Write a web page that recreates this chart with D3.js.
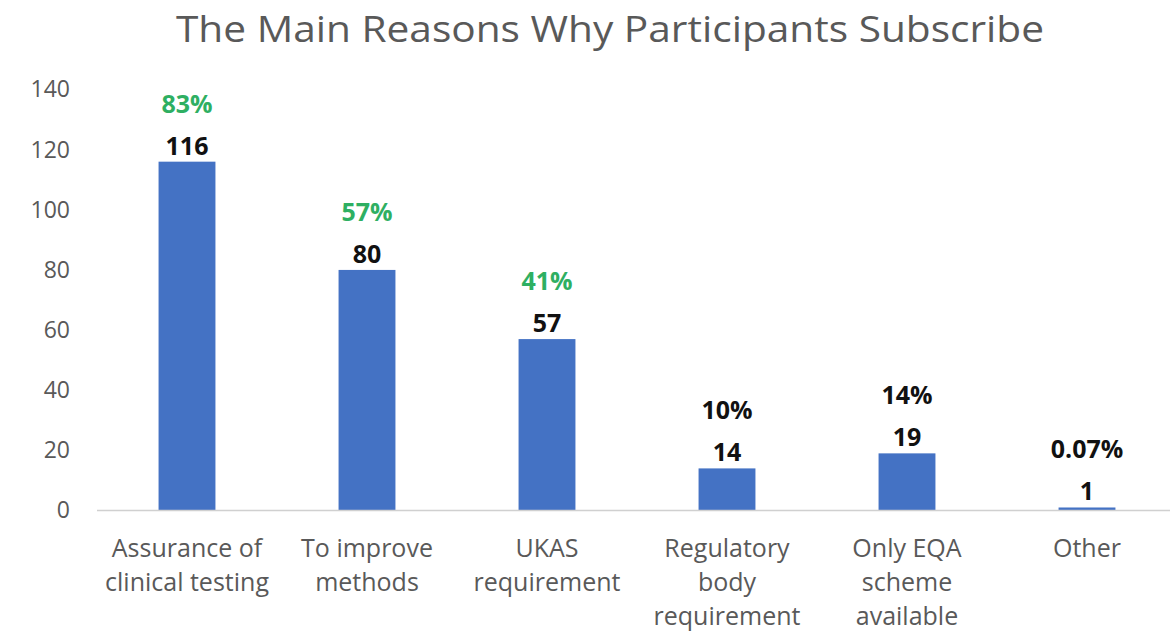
<!DOCTYPE html>
<html>
<head>
<meta charset="utf-8">
<script src="https://cdn.jsdelivr.net/npm/d3@7"></script>
<style>
  html, body { margin: 0; padding: 0; background: #ffffff; }
  svg { display: block; }
</style>
</head>
<body>
<svg id="chart" width="1170" height="632"></svg>
<script>
const categories = [
  ["Assurance of", "clinical testing"],
  ["To improve", "methods"],
  ["UKAS", "requirement"],
  ["Regulatory", "body", "requirement"],
  ["Only EQA", "scheme", "available"],
  ["Other"]
];
const values = [116, 80, 57, 14, 19, 1];
const percentLabels = ["83%", "57%", "41%", "10%", "14%", "0.07%"];
const percentHighlighted = [true, true, true, false, false, false];
const yTicks = [0, 20, 40, 60, 80, 100, 120, 140];
const title = "The Main Reasons Why Participants Subscribe";

const svg = d3.select("#chart");
const font = "'Open Sans', 'Noto Sans', sans-serif";
const gray = "#595959";

const x = d3.scaleBand()
  .domain(d3.range(categories.length))
  .range([97, 1177])
  .paddingInner(0.684)
  .paddingOuter(0.342);

const y = d3.scaleLinear().domain([0, 140]).range([510.5, 89.5]);

// title
svg.append("text")
  .attr("x", 610).attr("y", 42)
  .attr("text-anchor", "middle")
  .attr("font-family", font)
  .attr("font-size", 37)
  .attr("textLength", 868)
  .attr("lengthAdjust", "spacingAndGlyphs")
  .attr("fill", gray)
  .text(title);

// y axis (labels only)
const yAxis = d3.axisLeft(y).tickValues(yTicks).tickSize(0).tickPadding(0);
const yg = svg.append("g").attr("transform", "translate(70,0)").call(yAxis);
yg.select(".domain").remove();
yg.selectAll("text")
  .attr("font-family", font)
  .attr("font-size", 23)
  .attr("fill", gray);

// bars
svg.append("g").selectAll("rect")
  .data(values)
  .join("rect")
  .attr("x", (d, i) => x(i))
  .attr("y", d => y(d))
  .attr("width", x.bandwidth())
  .attr("height", d => y(0) - y(d))
  .attr("fill", "#4472C4");

// x axis line
const xAxis = d3.axisBottom(x).tickSize(0).tickFormat("");
const xg = svg.append("g").attr("transform", `translate(0,${y(0)})`).call(xAxis);
xg.select(".domain").attr("stroke", "#d0d0d0").attr("stroke-width", 1.5)
  .attr("d", "M97,0H1170");

// category labels
const catG = svg.append("g");
categories.forEach((lines, i) => {
  const cx = x(i) + x.bandwidth() / 2;
  const t = catG.append("text")
    .attr("text-anchor", "middle")
    .attr("font-family", font)
    .attr("font-size", 25)
    .attr("fill", gray);
  lines.forEach((ln, j) => {
    t.append("tspan")
      .attr("x", cx)
      .attr("y", 557 + j * 34)
      .text(ln);
  });
});

// value labels
svg.append("g").selectAll("text")
  .data(values)
  .join("text")
  .attr("x", (d, i) => x(i) + x.bandwidth() / 2)
  .attr("y", d => y(d) - 7)
  .attr("text-anchor", "middle")
  .attr("font-family", font)
  .attr("font-weight", "bold")
  .attr("font-size", 25)
  .attr("fill", "#111111")
  .text(d => d);

// percent labels
svg.append("g").selectAll("text")
  .data(percentLabels)
  .join("text")
  .attr("x", (d, i) => x(i) + x.bandwidth() / 2)
  .attr("y", (d, i) => y(values[i]) - 49)
  .attr("text-anchor", "middle")
  .attr("font-family", font)
  .attr("font-weight", "bold")
  .attr("font-size", 25)
  .attr("fill", (d, i) => percentHighlighted[i] ? "#2EAF62" : "#111111")
  .text(d => d);
</script>
</body>
</html>
